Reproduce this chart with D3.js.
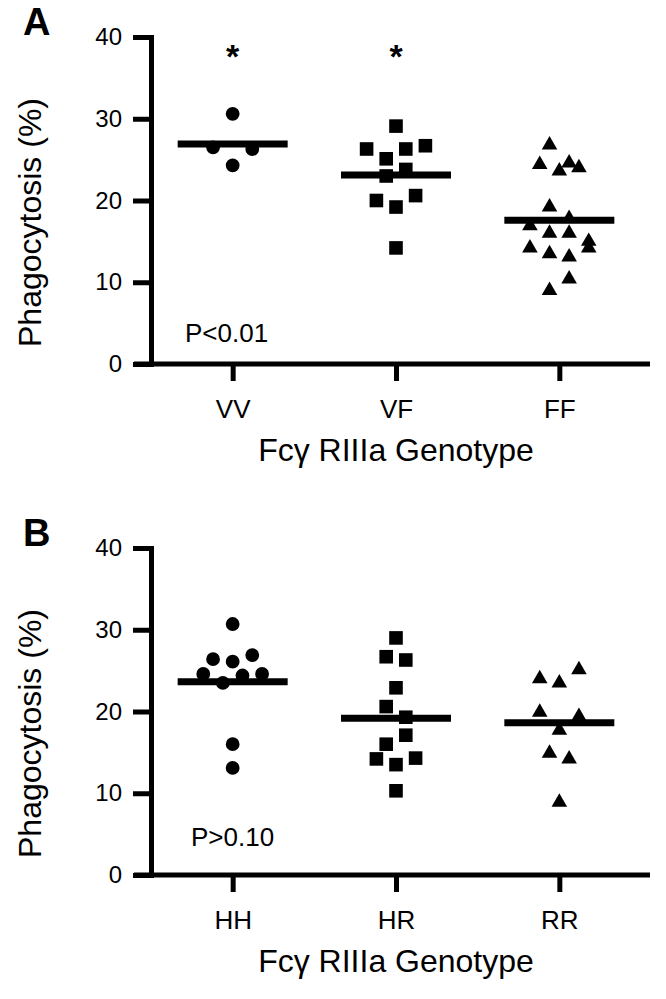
<!DOCTYPE html>
<html>
<head>
<meta charset="utf-8">
<script src="https://cdn.jsdelivr.net/npm/d3@7"></script>
<style>
  body { margin: 0; background: #fff; }
  svg text { font-family: "Liberation Sans", Arial, Helvetica, sans-serif; fill: #000; }
</style>
</head>
<body>
<script>
/***** Données *****/
var yTicks = [0, 10, 20, 30, 40];
var yTitle = "Phagocytosis (%)";
var xTitle = "Fc\u03b3 RIIIa Genotype";

// Panneau A
var panelAGenotypes = ["VV", "VF", "FF"];
var vvValues = [30.6, 26.5, 24.3, 26.3];
var vfValues = [29.1, 26.3, 25.1, 26.3, 26.7, 23.0, 23.8, 20.0, 19.2, 20.6, 14.2];
var ffValues = [26.8, 24.4, 23.6, 24.0, 24.6, 19.2, 17.8, 16.9, 16.0, 16.0, 15.0,
                14.2, 13.5, 13.1, 14.2, 9.0, 10.4];
var panelAStars = ["*", "*", ""];
var panelAPValue = "P<0.01";

// Panneau B
var panelBGenotypes = ["HH", "HR", "RR"];
var hhValues = [30.7, 26.4, 26.1, 26.9, 24.6, 23.5, 24.4, 24.6, 16.0, 13.1];
var hrValues = [29.0, 26.7, 26.3, 22.9, 20.6, 19.3, 16.0, 17.1, 14.2, 13.5, 14.3, 10.3];
var rrValues = [24.0, 23.5, 25.1, 19.9, 17.7, 19.4, 14.9, 14.2, 8.9];
var panelBStars = ["", "", ""];
var panelBPValue = "P>0.10";

(function (d3) {
    "use strict";

    /***** Configuration *****/
    var width = 666, height = 999;
    var axisX = 151;              // position de l'axe y
    var xAxisFrom = 134, xAxisTo = 650;
    var yTop = 37, yBottom = 364;
    var rowStep = 19.6;           // écart horizontal entre points d'une même rangée
    var rowGap = 2.25;            // écart max (en %) dans une rangée
    var shapes = [d3.symbolCircle, d3.symbolSquare, d3.symbolTriangle];
    var shapeSizes = [150, 185, 105];

    var svg = d3.select("body").append("svg")
        .attr("width", width)
        .attr("height", height);

    /***** Disposition en rangées (style Prism) *****/
    function layoutRows(values) {
        var order = d3.range(values.length).sort(function (a, b) {
            return values[b] - values[a] || a - b;
        });
        var rows = [], row = null;
        order.forEach(function (i) {
            if (!row || row.top - values[i] > rowGap) {
                row = { top: values[i], members: [] };
                rows.push(row);
            }
            row.members.push(i);
        });
        var dx = [];
        rows.forEach(function (r) {
            r.members.sort(d3.ascending);
            var n = r.members.length;
            r.members.forEach(function (i, j) { dx[i] = (j - (n - 1) / 2) * rowStep; });
        });
        return values.map(function (v, i) { return { v: v, dx: dx[i] }; });
    }

    /***** Création d'un panneau *****/
    function drawPanel(cfg) {
        var g = svg.append("g").attr("transform", "translate(0," + cfg.shift + ")");

        var yScale = d3.scaleLinear().domain([0, 40]).range([yBottom, yTop]);
        var xScale = d3.scalePoint().domain(cfg.genotypes).range([axisX, 641]).padding(0.5);

        // axe y
        var yAxis = d3.axisLeft(yScale).tickValues(yTicks).tickSize(18).tickPadding(11).tickSizeOuter(0);
        var yg = g.append("g")
            .attr("transform", "translate(" + axisX + ",0)")
            .call(yAxis);
        yg.select(".domain").attr("stroke", "#000").attr("stroke-width", 5).attr("stroke-linecap", "square");
        yg.selectAll(".tick line").attr("stroke", "#000").attr("stroke-width", 5);
        yg.selectAll(".tick text").style("font-size", "24px");

        // axe x
        var xAxis = d3.axisBottom(xScale).tickSize(17).tickPadding(19).tickSizeOuter(0);
        var xg = g.append("g")
            .attr("transform", "translate(0," + yBottom + ")")
            .call(xAxis);
        xg.select(".domain").attr("d", "M" + xAxisFrom + ",0H" + xAxisTo)
            .attr("stroke", "#000").attr("stroke-width", 5);
        xg.selectAll(".tick line").attr("stroke", "#000").attr("stroke-width", 5);
        xg.selectAll(".tick text").style("font-size", "26px");

        // points + moyenne
        cfg.groups.forEach(function (values, i) {
            var cx = xScale(cfg.genotypes[i]);
            g.append("g").selectAll("path")
                .data(layoutRows(values))
                .enter().append("path")
                .attr("transform", function (d) {
                    return "translate(" + (cx + d.dx) + "," + yScale(d.v) + ")";
                })
                .attr("d", d3.symbol().type(shapes[i]).size(shapeSizes[i]))
                .attr("fill", "#000");

            var m = d3.mean(values);
            g.append("line")
                .attr("x1", cx - 55).attr("x2", cx + 55)
                .attr("y1", yScale(m)).attr("y2", yScale(m))
                .attr("stroke", "#000").attr("stroke-width", 7);

            if (cfg.stars[i]) {
                g.append("text")
                    .attr("x", cx).attr("y", 68)
                    .attr("text-anchor", "middle")
                    .style("font-size", "34px")
                    .style("font-weight", "bold")
                    .text(cfg.stars[i]);
            }
        });

        // valeur P
        g.append("text")
            .attr("x", cfg.pX).attr("y", cfg.pY)
            .style("font-size", "26px")
            .text(cfg.pText);

        // titres
        g.append("text")
            .attr("transform", "translate(41," + ((yTop + yBottom) / 2 + 22) + ") rotate(-90)")
            .attr("text-anchor", "middle")
            .style("font-size", "32px")
            .text(yTitle);

        g.append("text")
            .attr("x", xScale(cfg.genotypes[1])).attr("y", 461)
            .attr("text-anchor", "middle")
            .style("font-size", "32px")
            .text(xTitle);

        g.append("text")
            .attr("x", 23).attr("y", 35)
            .style("font-size", "38px")
            .style("font-weight", "bold")
            .text(cfg.letter);
    }

    drawPanel({
        shift: 0, letter: "A",
        genotypes: panelAGenotypes,
        groups: [vvValues, vfValues, ffValues],
        stars: panelAStars,
        pText: panelAPValue, pX: 185, pY: 342
    });

    drawPanel({
        shift: 511, letter: "B",
        genotypes: panelBGenotypes,
        groups: [hhValues, hrValues, rrValues],
        stars: panelBStars,
        pText: panelBPValue, pX: 191, pY: 335
    });

})(d3);
</script>
</body>
</html>
